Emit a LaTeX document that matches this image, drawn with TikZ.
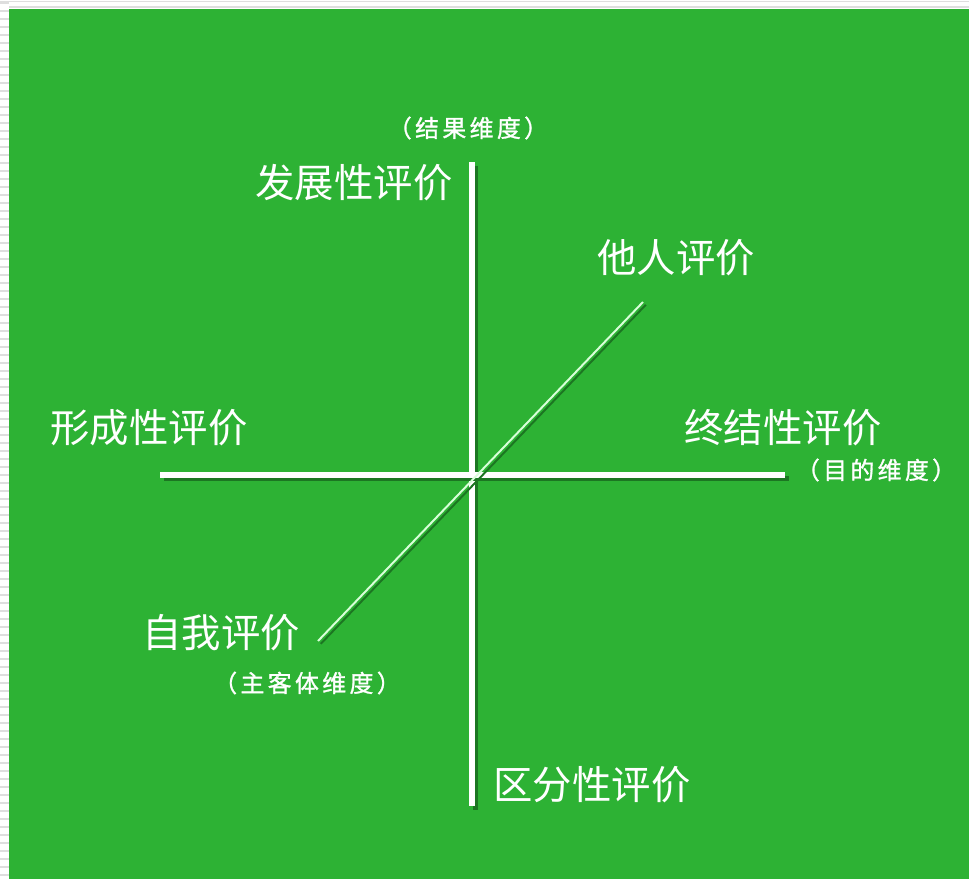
\documentclass[tikz,border=0pt]{standalone}
\usepackage{fontspec}
\newfontfamily\cjk{Noto Sans CJK SC}
\newfontfamily\cjkspaced[LetterSpace=14, FakeBold=1.2]{Noto Sans CJK SC}
\usetikzlibrary{calc}

\definecolor{boardgreen}{RGB}{45,178,52}
\definecolor{shadegreen}{RGB}{28,118,34}
\definecolor{stripegray}{RGB}{222,222,222}

\begin{document}
\begin{tikzpicture}[
    x=0.025cm, y=-0.025cm,
    mainlabel/.style={inner sep=0pt, text=white, font=\cjk\fontsize{28}{30}\selectfont},
    dimlabel/.style={inner sep=0pt, text=white, font=\cjkspaced\fontsize{17}{19}\selectfont},
    axisline/.style={white, line width=4pt, preaction={draw=shadegreen, line width=4pt, transform canvas={shift={(2.5pt,-2.5pt)}}}},
    diagline/.style={white!85!green, line width=1.4pt, preaction={draw=shadegreen, line width=1.4pt, transform canvas={shift={(2pt,-2pt)}}}},
]
    \useasboundingbox (0, 0) rectangle (969, 879);

    % page border and green board
    \fill [white] (0, 0) rectangle (969, 879);
    \foreach \i in {0, 8, ..., 872}
    {
        \draw [stripegray, line width=1pt] (0, \i+3) -- (9, \i+3);
    }
    \draw [stripegray, line width=1pt] (0, 1.5) -- (969, 1.5);
    \draw [stripegray, line width=1pt] (9, 7) -- (969, 7);
    \fill [boardgreen] (9, 9) rectangle (969, 879);

    % axis end points
    \coordinate (topEnd) at (472, 162);
    \coordinate (bottomEnd) at (472, 806);
    \coordinate (leftEnd) at (160, 475);
    \coordinate (rightEnd) at (785, 475);
    \coordinate (selfEnd) at (318, 641);
    \coordinate (otherEnd) at (643, 302);

    % the two main axes
    \foreach \start/\end in {
    topEnd/bottomEnd,
    leftEnd/rightEnd}
    {
        \draw [axisline] (\start) -- (\end) ;
    }

    % the diagonal axis
    \draw [diagline] (selfEnd) -- (otherEnd) ;

    % evaluation labels
    \foreach \name/\posX/\posY/\txt in {
    % name: node name, posX/posY: label centre, txt: label text
    develop/354/183/发展性评价,
    distinct/592/785/区分性评价,
    forming/149/428/形成性评价,
    final/783/428/终结性评价,
    other/676/258/他人评价,
    self/221/633/自我评价}
    {
        \node [mainlabel] at (\posX, \posY) (label_\name) {\txt};
    }

    % dimension labels
    \foreach \name/\posX/\posY/\txt in {
    result/468/128/（结果维度）,
    purpose/876/470/（目的维度）,
    subject/307/683/（主客体维度）}
    {
        \node [dimlabel] at (\posX, \posY) (dim_\name) {\txt};
    }

\end{tikzpicture}
\end{document}
